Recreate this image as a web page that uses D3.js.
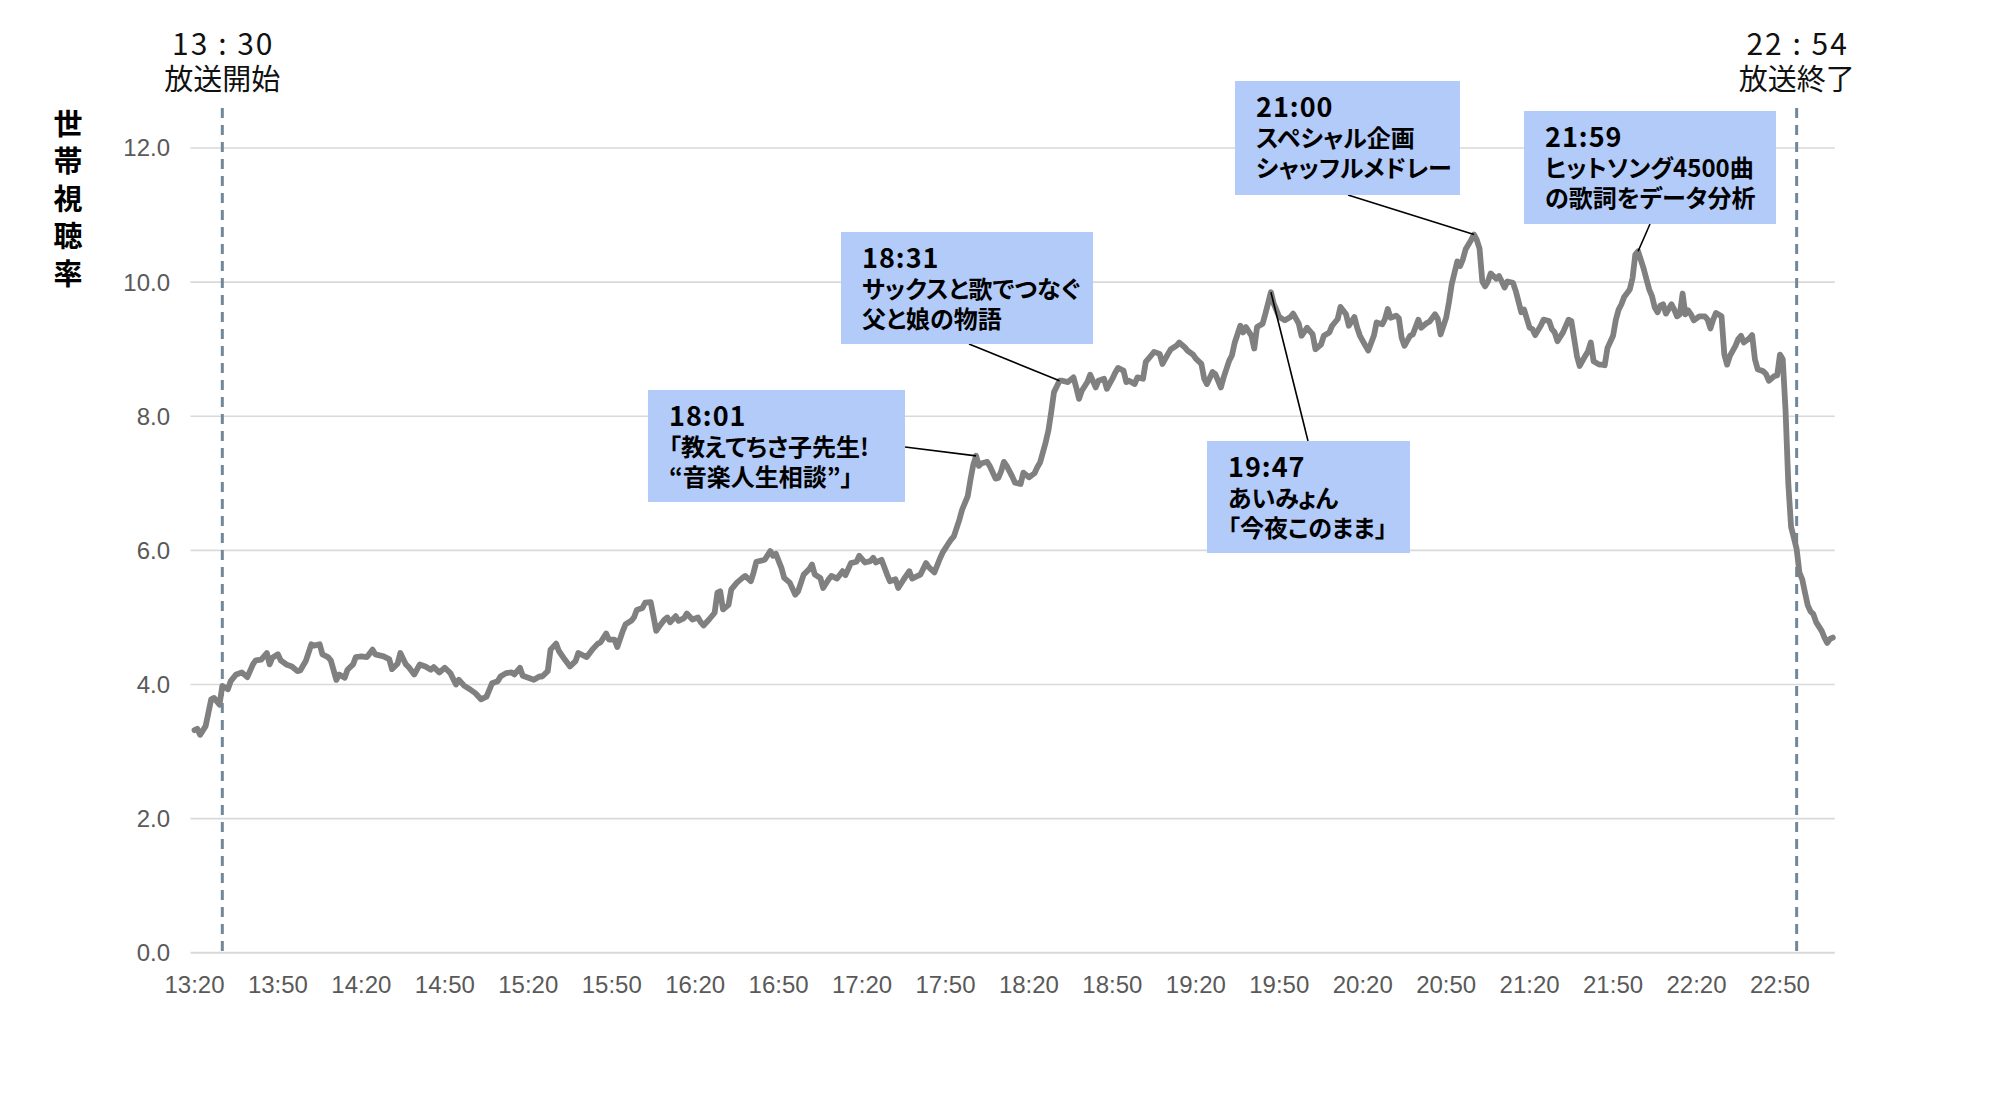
<!DOCTYPE html>
<html><head><meta charset="utf-8">
<script src="https://cdn.jsdelivr.net/npm/d3@7"></script>
<style>
html,body{margin:0;padding:0;background:#fff;}
svg{display:block;}
.palt{font-feature-settings:"palt" 1;}
</style></head><body>
<svg id="chart" width="2000" height="1111"></svg>
<script>
// ---------- data ----------
const times = [
"13:20","13:21","13:22","13:24","13:26","13:27","13:29","13:30","13:32","13:33","13:35","13:37","13:39","13:41","13:42","13:44","13:46","13:47","13:48","13:50","13:51","13:53","13:55","13:57","13:58",
"14:00","14:02","14:03","14:05","14:06","14:08","14:09","14:11","14:12","14:14","14:15","14:17","14:18","14:20","14:22","14:24","14:25","14:28","14:30","14:31","14:33","14:34","14:36","14:37","14:39","14:41","14:43","14:45","14:46","14:48","14:50","14:52","14:54","14:55","14:57","14:59",
"15:01","15:03","15:05","15:07","15:09","15:10","15:12","15:14","15:15","15:17","15:18","15:20","15:22","15:24","15:25","15:27","15:28","15:30","15:31","15:33","15:35","15:37","15:38","15:41","15:43","15:45","15:46","15:48","15:49","15:51","15:52","15:54","15:55","15:57","15:58","15:59",
"16:01","16:02","16:04","16:05","16:06","16:07","16:09","16:10","16:11","16:13","16:14","16:16","16:17","16:19","16:21","16:22","16:23","16:25","16:27","16:28","16:29","16:30","16:32","16:33","16:35","16:37","16:38","16:40","16:41","16:42","16:45","16:47","16:48","16:49","16:51","16:52","16:54","16:56","16:57","16:59",
"17:01","17:02","17:03","17:05","17:06","17:08","17:09","17:11","17:13","17:14","17:16","17:18","17:19","17:21","17:23","17:24","17:25","17:27","17:29","17:30","17:32","17:33","17:35","17:37","17:38","17:40","17:41","17:43","17:44","17:46","17:48","17:49","17:51","17:52","17:53","17:55","17:56","17:58","17:59",
"18:00","18:01","18:02","18:03","18:05","18:06","18:08","18:09","18:10","18:11","18:12","18:14","18:15","18:17","18:18","18:20","18:22","18:23","18:24","18:26","18:27","18:28","18:29","18:31","18:32","18:34","18:36","18:37","18:38","18:39","18:41","18:42","18:44","18:45","18:47","18:48","18:50","18:51","18:52","18:54","18:55","18:56","18:58","18:59",
"19:01","19:02","19:04","19:05","19:07","19:08","19:10","19:11","19:13","19:14","19:16","19:17","19:19","19:20","19:22","19:23","19:24","19:26","19:27","19:29","19:30","19:32","19:33","19:34","19:36","19:37","19:38","19:40","19:41","19:42","19:44","19:45","19:47","19:48","19:50","19:52","19:54","19:55","19:57","19:58",
"20:00","20:02","20:03","20:05","20:06","20:08","20:09","20:11","20:12","20:14","20:15","20:17","20:18","20:19","20:21","20:22","20:24","20:25","20:27","20:28","20:29","20:30","20:32","20:33","20:34","20:35","20:37","20:38","20:40","20:41","20:43","20:44","20:46","20:47","20:48","20:50","20:51","20:52","20:54","20:55","20:56","20:57","20:59",
"21:00","21:01","21:02","21:03","21:04","21:05","21:06","21:08","21:09","21:10","21:11","21:12","21:14","21:15","21:17","21:18","21:20","21:21","21:22","21:24","21:25","21:27","21:28","21:29","21:30","21:32","21:34","21:35","21:37","21:38","21:40","21:41","21:42","21:43","21:45","21:46","21:47","21:48","21:50","21:51","21:52","21:53","21:54","21:56","21:57","21:58","21:59",
"22:01","22:03","22:04","22:05","22:06","22:07","22:08","22:09","22:11","22:12","22:13","22:14","22:15","22:16","22:17","22:18","22:19","22:21","22:23","22:24","22:25","22:26","22:27","22:29","22:30","22:31","22:32","22:34","22:35","22:36","22:37","22:39","22:40","22:41","22:42","22:44","22:45","22:46","22:48","22:49","22:50","22:51","22:52","22:53","22:54","22:55","22:56","22:57","22:58","22:59",
"23:00","23:01","23:02","23:03","23:05","23:06","23:07","23:08","23:09"
];
const ratings = [
3.32,3.34,3.25,3.38,3.78,3.80,3.70,3.98,3.93,4.05,4.15,4.18,4.11,4.30,4.36,4.37,4.47,4.30,4.40,4.45,4.36,4.30,4.27,4.20,4.21,
4.35,4.60,4.58,4.60,4.45,4.41,4.36,4.07,4.15,4.10,4.22,4.30,4.41,4.42,4.41,4.52,4.45,4.42,4.38,4.23,4.31,4.47,4.30,4.26,4.15,4.30,4.27,4.22,4.26,4.18,4.25,4.17,4.00,4.07,3.98,3.93,
3.87,3.78,3.82,4.02,4.05,4.12,4.17,4.18,4.15,4.25,4.13,4.10,4.07,4.12,4.12,4.20,4.52,4.61,4.50,4.38,4.27,4.35,4.47,4.41,4.52,4.61,4.63,4.76,4.67,4.67,4.56,4.80,4.90,4.95,5.00,5.11,
5.14,5.22,5.23,5.02,4.80,4.86,4.97,5.00,4.93,5.02,4.95,4.99,5.06,4.97,5.00,4.93,4.88,4.97,5.07,5.37,5.39,5.12,5.19,5.42,5.52,5.59,5.62,5.54,5.67,5.83,5.86,5.99,5.92,5.95,5.74,5.59,5.52,5.34,5.39,5.64,
5.72,5.79,5.64,5.59,5.44,5.57,5.62,5.58,5.69,5.63,5.81,5.83,5.92,5.82,5.84,5.89,5.82,5.86,5.64,5.54,5.57,5.44,5.57,5.69,5.58,5.62,5.64,5.81,5.75,5.67,5.88,5.97,6.10,6.16,6.21,6.46,6.61,6.81,7.06,
7.28,7.41,7.26,7.30,7.32,7.25,7.07,7.08,7.18,7.32,7.26,7.10,7.01,6.99,7.16,7.09,7.15,7.24,7.31,7.61,7.79,8.06,8.36,8.53,8.53,8.51,8.58,8.43,8.26,8.38,8.51,8.62,8.43,8.53,8.56,8.41,8.56,8.65,8.72,8.68,8.51,8.53,8.48,8.58,
8.56,8.81,8.91,8.96,8.93,8.78,8.93,9.00,9.05,9.10,9.03,8.98,8.92,8.86,8.78,8.56,8.48,8.66,8.63,8.43,8.58,8.83,8.91,9.10,9.35,9.25,9.33,9.20,9.01,9.33,9.38,9.53,9.85,9.68,9.48,9.43,9.48,9.53,9.38,9.20,
9.32,9.22,9.00,9.07,9.20,9.25,9.35,9.45,9.63,9.52,9.35,9.48,9.32,9.20,9.05,8.98,9.20,9.40,9.37,9.45,9.60,9.47,9.50,9.46,9.17,9.05,9.20,9.22,9.44,9.32,9.39,9.41,9.52,9.45,9.22,9.47,9.70,9.97,10.31,10.24,10.34,10.49,10.63,
10.71,10.63,10.50,10.01,9.94,10.01,10.13,10.05,10.09,10.01,9.92,10.01,9.99,9.87,9.55,9.59,9.32,9.30,9.21,9.35,9.44,9.42,9.30,9.25,9.12,9.25,9.44,9.42,8.90,8.75,8.90,8.97,9.10,8.82,8.77,8.77,8.76,9.02,9.20,9.44,9.59,9.67,9.78,9.89,10.06,10.41,10.46,
10.20,9.89,9.79,9.62,9.55,9.65,9.67,9.53,9.67,9.59,9.49,9.52,9.83,9.52,9.58,9.52,9.43,9.49,9.49,9.44,9.31,9.44,9.54,9.49,8.92,8.77,8.90,9.05,9.15,9.20,9.10,9.16,9.21,8.85,8.70,8.67,8.63,8.53,8.60,8.61,8.92,8.85,8.10,7.00,6.35,6.19,6.02,5.67,5.57,5.37,
5.18,5.09,5.05,4.93,4.80,4.70,4.62,4.68,4.70
];
const xTickLabels = ["13:20","13:50","14:20","14:50","15:20","15:50","16:20","16:50","17:20","17:50","18:20","18:50","19:20","19:50","20:20","20:50","21:20","21:50","22:20","22:50"];
const yTickValues = [0, 2, 4, 6, 8, 10, 12];
const yTitle = "世帯視聴率";
const markerTimes = ["13:30", "22:56"];
const markerLabels = ["13 : 30", "22 : 54"];
const markerCaptions = ["放送開始", "放送終了"];
const annoTimes = ["18:01", "18:31", "19:47", "21:00", "21:59"];
const annoText = [
  ["「教えてちさ子先生!", "“音楽人生相談”」"],
  ["サックスと歌でつなぐ", "父と娘の物語"],
  ["あいみょん", "「今夜このまま」"],
  ["スペシャル企画", "シャッフルメドレー"],
  ["ヒットソング4500曲", "の歌詞をデータ分析"]
];

// ---------- layout ----------
const boxLayout = [
  {x: 648,  y: 390, w: 257, h: 112, ax: 905,  ay: 447},
  {x: 841,  y: 232, w: 252, h: 112, ax: 969,  ay: 344},
  {x: 1207, y: 441, w: 203, h: 112, ax: 1308, ay: 441},
  {x: 1235, y: 81,  w: 225, h: 114, ax: 1348, ay: 195},
  {x: 1524, y: 111, w: 252, h: 113, ax: 1650, ay: 224}
];
const CJK = "'Noto Sans CJK JP', 'Noto Sans', sans-serif";
const LAT = "'Liberation Sans', Arial, sans-serif";

const toMin = s => { const [h, m] = s.split(":").map(Number); return h * 60 + m; };
const data = times.map((t, i) => ({t: toMin(t), v: ratings[i]}));

const svg = d3.select("#chart");
const x = d3.scaleLinear().domain([toMin("13:20"), toMin("23:09")]).range([194.5, 1832.8]);
const y = d3.scaleLinear().domain([0, 12]).range([952.8, 148]);

// gridlines
svg.append("g").selectAll("line").data(yTickValues).join("line")
  .attr("x1", x.range()[0] - 4).attr("x2", x.range()[1] + 2)
  .attr("y1", d => y(d)).attr("y2", d => y(d))
  .attr("stroke", "#d9d9d9").attr("stroke-width", d => d === 0 ? 2 : 1.6);

// y tick labels
svg.append("g").selectAll("text").data(yTickValues).join("text")
  .attr("x", 170).attr("y", d => y(d)).attr("dy", "0.35em")
  .attr("text-anchor", "end")
  .style("font-family", LAT).style("font-size", "24px").attr("fill", "#595959")
  .text(d => d3.format(".1f")(d));

// x tick labels
svg.append("g").selectAll("text").data(xTickLabels).join("text")
  .attr("x", d => x(toMin(d))).attr("y", 993)
  .attr("text-anchor", "middle")
  .style("font-family", LAT).style("font-size", "24px").attr("fill", "#595959")
  .text(d => d);

// y title (vertical stacked)
svg.append("g").selectAll("text").data(Array.from(yTitle)).join("text")
  .attr("x", 68).attr("y", (d, i) => 124.5 + i * 37.5).attr("dy", "0.36em")
  .attr("text-anchor", "middle")
  .style("font-family", CJK).style("font-size", "29px").style("font-weight", "bold").attr("fill", "#000")
  .text(d => d);

// broadcast markers
const mk = svg.append("g");
markerTimes.forEach((t, i) => {
  const mx = x(toMin(t));
  mk.append("line").attr("x1", mx).attr("x2", mx).attr("y1", 108).attr("y2", 953)
    .attr("stroke", "#71889a").attr("stroke-width", 3).attr("stroke-dasharray", "10,7");
  const tx = mk.append("text").attr("text-anchor", "middle")
    .style("font-family", CJK).attr("fill", "#111");
  tx.append("tspan").attr("x", mx + 1).attr("y", 55)
    .style("font-size", "30px").style("letter-spacing", "2px").text(markerLabels[i]);
  tx.append("tspan").attr("x", mx).attr("y", 90)
    .style("font-size", "29px").text(markerCaptions[i]);
});

// rating line
svg.append("path").datum(data)
  .attr("fill", "none").attr("stroke", "#808080").attr("stroke-width", 5.8)
  .attr("stroke-linejoin", "round").attr("stroke-linecap", "round")
  .attr("d", d3.line().x(d => x(d.t)).y(d => y(d.v)));

// annotations
const an = svg.append("g");
annoTimes.forEach((t, i) => {
  const b = boxLayout[i];
  const idx = times.indexOf(t);
  const px = x(toMin(t)), py = y(ratings[idx]);
  an.append("line").attr("x1", b.ax).attr("y1", b.ay).attr("x2", px).attr("y2", py)
    .attr("stroke", "#000").attr("stroke-width", 1.6);
  an.append("rect").attr("x", b.x).attr("y", b.y).attr("width", b.w).attr("height", b.h)
    .attr("fill", "#b3cbf9");
  const tx = an.append("text").attr("class", "palt")
    .style("font-family", CJK).style("font-weight", "bold").attr("fill", "#000");
  tx.append("tspan").attr("x", b.x + 21).attr("y", b.y + 36)
    .style("font-size", "27px").style("letter-spacing", "1px").text(t);
  annoText[i].forEach((line, j) => {
    tx.append("tspan").attr("x", b.x + 21).attr("y", b.y + 66 + j * 30)
      .style("font-size", "24px").text(line);
  });
});
</script>
</body></html>
